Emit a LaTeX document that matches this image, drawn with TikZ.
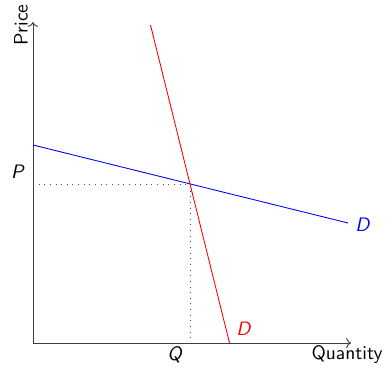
\documentclass[tikz,border=0pt]{standalone}
\usetikzlibrary{arrows.meta}
\renewcommand{\familydefault}{\sfdefault}
\begin{document}
\begin{tikzpicture}[x=0.514pt,y=-0.514pt,
  axis/.style={draw=black!75,line width=0.5pt,-{To[length=2.5pt]}},
  guide/.style={dash pattern=on 0.4pt off 2.5pt,draw=black!70},
  lbl/.style={inner sep=0pt,font=\sffamily},
  demand/.style={line width=0.45pt}]
\useasboundingbox (0,0) rectangle (385,369);
\coordinate (O) at (33,343);
\coordinate (Ytop) at (33,22);
\coordinate (Xend) at (351,343);
\coordinate (B1) at (33,145);
\coordinate (B2) at (348,223);
\coordinate (R1) at (150.5,25);
\coordinate (R2) at (229.5,343);
\coordinate (E) at (190,184);
\coordinate (Pax) at (33,184);
\coordinate (Qax) at (190,343);
\draw[guide] (Pax) -- (E) -- (Qax);
\draw[axis] (O) -- (Ytop);
\draw[axis] (O) -- (Xend);
\draw[demand,blue] (B1) -- (B2);
\draw[demand,red] (R1) -- (R2);
\node[lbl,rotate=90] (price) at (21,25) {Price};
\node[lbl] (qty) at (347,355) {Quantity};
\node[lbl] (P) at (18,172) {\textit{P}};
\node[lbl] (Q) at (175,355) {\textit{Q}};
\node[lbl,text=red] (Dr) at (244,329) {\textit{D}};
\node[lbl,text=blue] (Db) at (363,225) {\textit{D}};
\end{tikzpicture}
\end{document}
